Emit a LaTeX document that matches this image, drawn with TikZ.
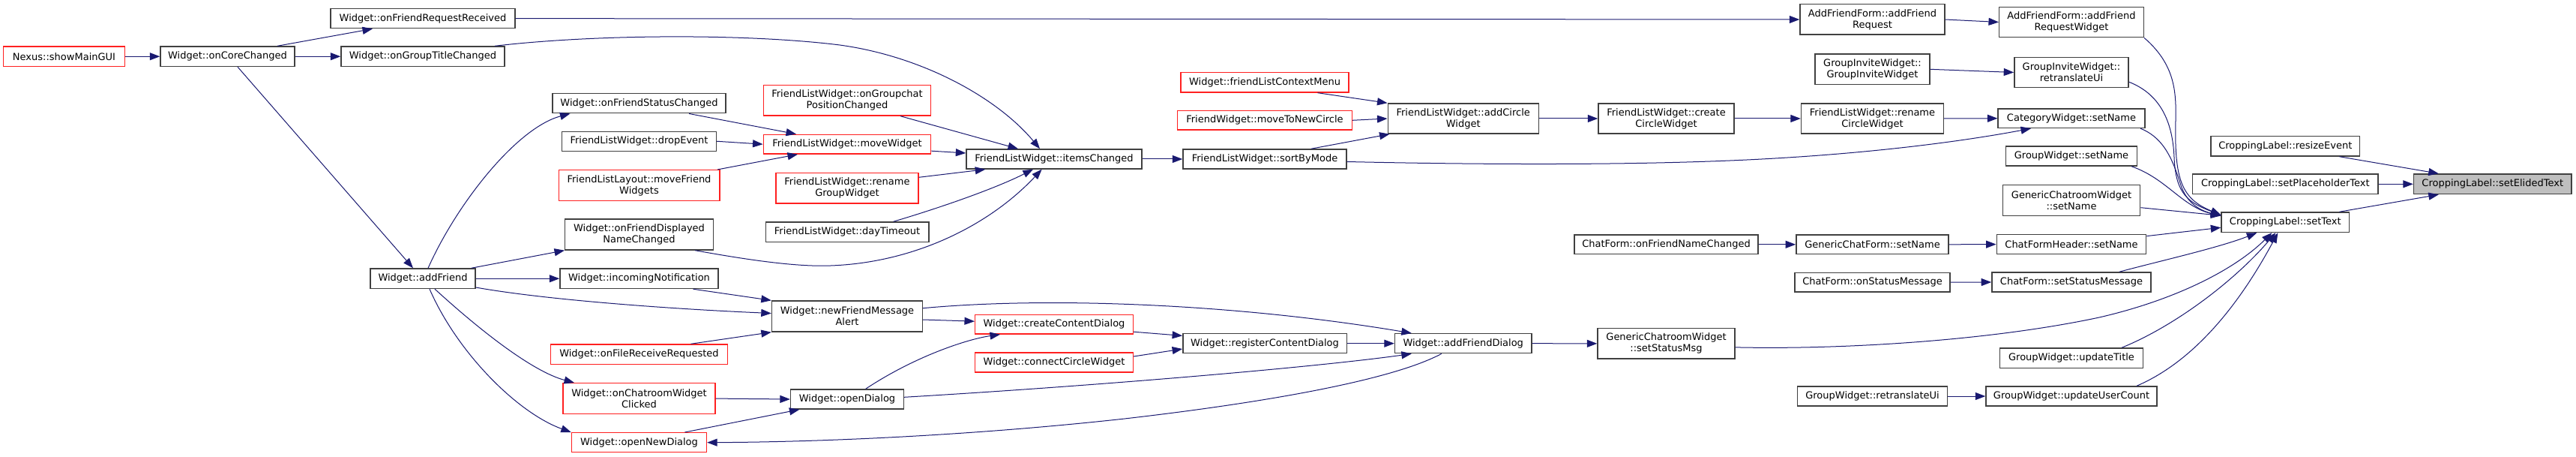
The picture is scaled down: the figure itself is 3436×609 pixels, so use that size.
\documentclass[tikz,border=0pt]{standalone}
\usepackage{fontspec}
\setmainfont{DejaVu Sans}
\usetikzlibrary{arrows.meta,calc}
\definecolor{edgeblue}{HTML}{191970}
\definecolor{boxgray}{HTML}{404040}
\definecolor{boxred}{HTML}{FF2020}
\definecolor{targetfill}{HTML}{BFBFBF}
\tikzset{
 fnbox/.style={draw=boxgray, fill=white, line width=0.7pt, inner sep=0pt, align=center,
   font=\fontsize{6.5}{7.55}\selectfont, text=black},
 fnred/.style={fnbox, draw=boxred},
 fntarget/.style={fnbox, fill=targetfill},
 callarrow/.style={draw=edgeblue, line width=0.5pt, -{Triangle[length=6.75pt,width=5pt]}},
}
\newcommand\mkbox[7][fnbox]{\node[#1,minimum width=#5*0.5pt,minimum height=#6*0.5pt] (#2) at (#3,#4) {#7};}
\begin{document}
\begin{tikzpicture}[x=0.5pt,y=-0.5pt]
\useasboundingbox (0,0) rectangle (3436,609);
% column 0-2
\mkbox[fnred]{nexus}{85.5}{75.25}{162}{26.5}{Nexus::showMainGUI}
\mkbox{core}{303.5}{75.25}{179}{26.5}{Widget::onCoreChanged}
\mkbox{frr}{564}{24.65}{246}{26.1}{Widget::onFriendRequestReceived}
\mkbox{gtc}{564}{75.25}{218}{26.5}{Widget::onGroupTitleChanged}
\mkbox{addf}{564}{371.25}{140}{26.5}{Widget::addFriend}
% column 3
\mkbox{fsc}{852.5}{137.5}{230.7}{26.5}{Widget::onFriendStatusChanged}
\mkbox{drop}{852.5}{188.25}{205.6}{26}{FriendListWidget::dropEvent}
\mkbox[fnred]{mfw}{852.5}{247}{214.6}{40.6}{FriendListLayout::moveFriend\\Widgets}
\mkbox{fdn}{852.5}{312.5}{197.6}{41}{Widget::onFriendDisplayed\\NameChanged}
\mkbox{inc}{852.5}{371.25}{211}{26.5}{Widget::incomingNotification}
\mkbox[fnred]{frq}{852.5}{472.2}{235.5}{26.4}{Widget::onFileReceiveRequested}
\mkbox[fnred]{cwc}{852.5}{531.1}{203}{40.8}{Widget::onChatroomWidget\\Clicked}
\mkbox[fnred]{ond}{852.5}{589.7}{180}{26}{Widget::openNewDialog}
% column 4
\mkbox[fnred]{gcp}{1130}{133.7}{223.5}{40.6}{FriendListWidget::onGroupchat\\PositionChanged}
\mkbox[fnred]{mw}{1130}{192.2}{223.5}{25.6}{FriendListWidget::moveWidget}
\mkbox[fnred]{rgw}{1130}{250.85}{190}{40.3}{FriendListWidget::rename\\GroupWidget}
\mkbox{dt}{1130}{309.35}{217.6}{26.7}{FriendListWidget::dayTimeout}
\mkbox{nfma}{1130}{421.5}{201}{41}{Widget::newFriendMessage\\Alert}
\mkbox{od}{1130}{532}{150.8}{26}{Widget::openDialog}
% column 5
\mkbox{ic}{1406}{212}{234}{26}{FriendListWidget::itemsChanged}
\mkbox[fnred]{ccd}{1406}{432.2}{210.7}{25.6}{Widget::createContentDialog}
\mkbox[fnred]{cc}{1406}{483}{210.7}{26}{Widget::connectCircleWidget}
% column 6
\mkbox[fnred]{flcm}{1687}{109.85}{223.7}{26.3}{Widget::friendListContextMenu}
\mkbox[fnred]{mtnc}{1687}{160.3}{232.6}{25.4}{FriendWidget::moveToNewCircle}
\mkbox{sbm}{1687}{212}{218}{26}{FriendListWidget::sortByMode}
\mkbox{rcd}{1687}{457.7}{218.4}{26}{Widget::registerContentDialog}
% column 7
\mkbox{acw}{1951.7}{158}{201}{40}{FriendListWidget::addCircle\\Widget}
\mkbox{afd}{1951.7}{457.7}{182.3}{26}{Widget::addFriendDialog}
% column 8
\mkbox{ccw}{2222.5}{158}{181}{40}{FriendListWidget::create\\CircleWidget}
\mkbox{ofnc}{2222.5}{325.8}{245}{25.6}{ChatForm::onFriendNameChanged}
\mkbox{scsm}{2222.5}{457.85}{183}{40.3}{GenericChatroomWidget\\::setStatusMsg}
% column 9
\mkbox{afr}{2497.5}{26}{193}{40.4}{AddFriendForm::addFriend\\Request}
\mkbox{giw}{2497.5}{92.3}{152.7}{40.6}{GroupInviteWidget::\\GroupInviteWidget}
\mkbox{rcw}{2497.5}{158}{190}{40}{FriendListWidget::rename\\CircleWidget}
\mkbox{gcfs}{2497.5}{325.8}{203.3}{25.6}{GenericChatForm::setName}
\mkbox{osm}{2497.5}{376.2}{207.3}{25.5}{ChatForm::onStatusMessage}
\mkbox{gwr}{2497.5}{528}{200}{26}{GroupWidget::retranslateUi}
% column 10
\mkbox{afrw}{2763}{29.5}{192.6}{40.4}{AddFriendForm::addFriend\\RequestWidget}
\mkbox{giwr}{2763}{96.5}{152.3}{40}{GroupInviteWidget::\\retranslateUi}
\mkbox{cws}{2763}{157.75}{195.7}{25.5}{CategoryWidget::setName}
\mkbox{gws}{2763}{208}{175.2}{26}{GroupWidget::setName}
\mkbox{gcws}{2763}{267}{183.5}{40.8}{GenericChatroomWidget\\::setName}
\mkbox{cfhs}{2763}{325.6}{199.4}{26}{ChatFormHeader::setName}
\mkbox{cfssm}{2763}{376}{212.2}{26}{ChatForm::setStatusMessage}
\mkbox{ut}{2763}{477.25}{190.5}{26.5}{GroupWidget::updateTitle}
\mkbox{uuc}{2763}{528}{228}{26}{GroupWidget::updateUserCount}
% column 11-12
\mkbox{re}{3048.3}{194.85}{198.7}{26.3}{CroppingLabel::resizeEvent}
\mkbox{sph}{3048.3}{245.3}{247.4}{26.6}{CroppingLabel::setPlaceholderText}
\mkbox{st}{3048.3}{296.25}{170.6}{26.5}{CroppingLabel::setText}
\mkbox[fntarget]{se}{3324.75}{245.3}{210.5}{26.6}{CroppingLabel::setElidedText}
% edges
\draw[callarrow] (nexus.east) -- (core.west);
\draw[callarrow] ($(core.north)+(66.5,0)$) -- ($(frr.south)+(-67,0)$);
\draw[callarrow] (core.east) -- (gtc.west);
\draw[callarrow] ($(core.south)+(13.5,0)$) -- ($(addf.north)+(-13,0)$);
\draw[callarrow] (frr.east) -- (afr.west);
\draw[callarrow] ($(gtc.north)+(96,0)$) .. controls (800,45) and (1000,45) .. (1120,60) .. controls (1230,75) and (1330,130) .. ($(ic.north)+(-19,0)$);
\draw[callarrow] ($(addf.north)+(7,0)$) .. controls (610,270) and (690,170) .. ($(fsc.south)+(-92,0)$);
\draw[callarrow] ($(addf.north)+(64.6,0)$) -- (fdn.south west);
\draw[callarrow] (addf.east) -- (inc.west);
\draw[callarrow] ($(addf.east)+(0,11.75)$) .. controls (730,400) and (900,412) .. ($(nfma.west)+(0,-4)$);
\draw[callarrow] ($(addf.south)+(16,0)$) .. controls (640,440) and (710,495) .. ($(cwc.north)+(-86.5,0)$);
\draw[callarrow] ($(addf.south)+(9,0)$) .. controls (610,470) and (690,550) .. (ond.north west);
\draw[callarrow] ($(fsc.south)+(66.5,0)$) -- ($(mw.north)+(-68,0)$);
\draw[callarrow] (drop.east) -- (mw.west);
\draw[callarrow] ($(mfw.north east)+(-3.6,0)$) -- ($(mw.south)+(-66,0)$);
\draw[callarrow] ($(fdn.south)+(74.7,0)$) .. controls (990,345) and (1060,356) .. (1108,354) .. controls (1220,350) and (1320,300) .. ($(ic.south)+(-16.4,0)$);
\draw[callarrow] ($(inc.south)+(72,0)$) -- (nfma.north west);
\draw[callarrow] ($(frq.north)+(69,0)$) -- (nfma.south west);
\draw[callarrow] (cwc.east) -- (od.west);
\draw[callarrow] ($(ond.north)+(61,0)$) -- ($(od.south)+(-63.6,0)$);
\draw[callarrow] ($(gcp.south)+(71,0)$) -- ($(ic.north)+(-48,0)$);
\draw[callarrow] ($(mw.east)+(0,9)$) -- ($(ic.west)+(0,-8)$);
\draw[callarrow] ($(rgw.north east)+(0,6.3)$) -- ($(ic.south west)+(26,0)$);
\draw[callarrow] ($(dt.north)+(61.6,0)$) .. controls (1260,275) and (1330,250) .. ($(ic.south)+(-28,0)$);
\draw[callarrow] (ic.east) -- (sbm.west);
\draw[callarrow] ($(nfma.east)+(0,-10.8)$) .. controls (1400,395) and (1650,405) .. ($(afd.north west)+(23,0)$);
\draw[callarrow] ($(nfma.east)+(0,4.5)$) -- ($(ccd.west)+(0,-4)$);
\draw[callarrow] ($(ccd.east)+(0,10)$) -- ($(rcd.west)+(0,-10.3)$);
\draw[callarrow] ($(cc.east)+(0,-8)$) -- ($(rcd.west)+(0,7.3)$);
\draw[callarrow] (rcd.east) -- (afd.west);
\draw[callarrow] ($(od.north)+(24.6,0)$) .. controls (1220,475) and (1290,452) .. ($(ccd.south)+(-72,0)$);
\draw[callarrow] ($(od.east)+(0,-2.7)$) .. controls (1450,515) and (1750,490) .. ($(afd.south west)+(23,0)$);
\draw[callarrow] ($(afd.south)+(-29,0)$) .. controls (1860,505) and (1700,535) .. (1500,558) .. controls (1300,580) and (1100,589) .. (ond.east);
\draw[callarrow] (afd.east) -- (scsm.west);
\draw[callarrow] ($(sbm.north)+(61.8,0)$) -- ($(acw.south west)+(3,0)$);
\draw[callarrow] ($(flcm.south)+(70.5,0)$) -- (acw.north west);
\draw[callarrow] (mtnc.east) -- (acw.west);
\draw[callarrow] (acw.east) -- (ccw.west);
\draw[callarrow] (ccw.east) -- (rcw.west);
\draw[callarrow] (rcw.east) -- (cws.west);
\draw[callarrow] ($(sbm.east)+(0,3.5)$) .. controls (2000,220) and (2200,220) .. (2350,212) .. controls (2500,204) and (2620,188) .. ($(cws.south)+(-54,0)$);
\draw[callarrow] (afr.east) -- (afrw.west);
\draw[callarrow] (giw.east) -- (giwr.west);
\draw[callarrow] (ofnc.east) -- (gcfs.west);
\draw[callarrow] (gcfs.east) -- (cfhs.west);
\draw[callarrow] (osm.east) -- (cfssm.west);
\draw[callarrow] (gwr.east) -- (uuc.west);
\draw[callarrow] ($(scsm.east)+(0,5)$) .. controls (2450,466) and (2650,455) .. (2800,423) .. controls (2900,400) and (2980,360) .. ($(st.south)+(-18,0)$);
\draw[callarrow] (afrw.south east) .. controls (2900,85) and (2903,120) .. (2902,160) .. controls (2900,240) and (2910,265) .. ($(st.west)+(0,-10)$);
\draw[callarrow] ($(giwr.east)+(0,12.8)$) .. controls (2880,125) and (2898,160) .. (2900,210) .. controls (2902,260) and (2920,270) .. ($(st.west)+(0,-9.5)$);
\draw[callarrow] ($(cws.south)+(92,0)$) .. controls (2890,185) and (2900,220) .. (2910,250) .. controls (2920,275) and (2940,282) .. ($(st.west)+(0,-9)$);
\draw[callarrow] ($(gws.south)+(80,0)$) .. controls (2890,238) and (2910,275) .. ($(st.west)+(0,-8.5)$);
\draw[callarrow] ($(gcws.east)+(0,9.7)$) -- ($(st.west)+(0,-9)$);
\draw[callarrow] ($(cfhs.north east)+(0,2.7)$) -- ($(st.west)+(0,7)$);
\draw[callarrow] ($(cfssm.north)+(63.7,0)$) .. controls (2880,348) and (2960,330) .. ($(st.south)+(-38,0)$);
\draw[callarrow] ($(ut.north)+(67,0)$) .. controls (2900,435) and (2980,375) .. ($(st.south)+(-13,0)$);
\draw[callarrow] ($(uuc.north)+(87,0)$) .. controls (2930,480) and (2990,400) .. ($(st.south)+(-10,0)$);
\draw[callarrow] ($(re.south)+(72,0)$) -- ($(se.north)+(-72,0)$);
\draw[callarrow] (sph.east) -- (se.west);
\draw[callarrow] ($(st.north)+(72,0)$) -- ($(se.south)+(-72,0)$);
\end{tikzpicture}
\end{document}
